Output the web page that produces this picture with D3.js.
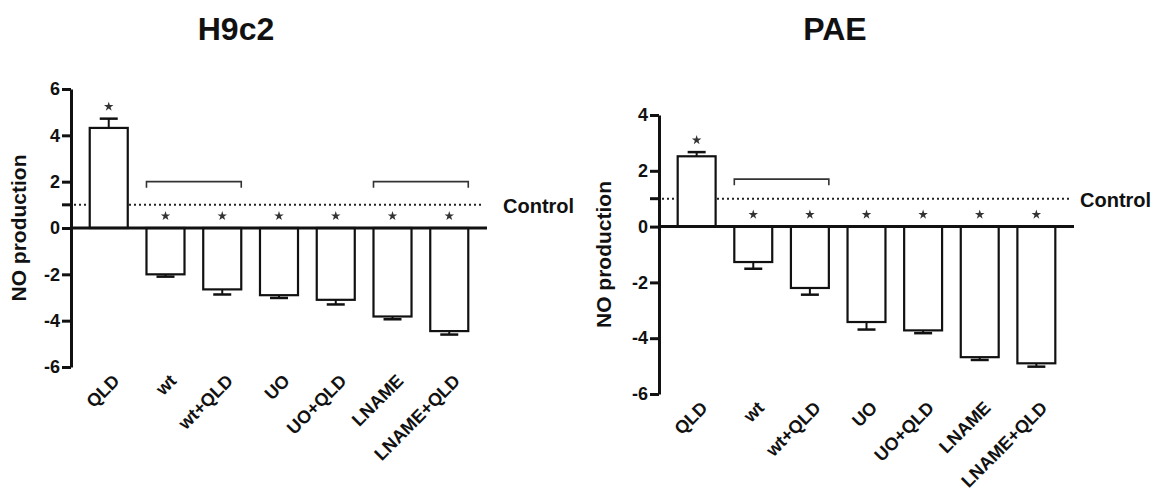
<!DOCTYPE html>
<html>
<head>
<meta charset="utf-8">
<script src="https://cdn.jsdelivr.net/npm/d3@7"></script>
<style>
  body { margin: 0; background: #fff; }
  text { font-family: "Liberation Sans", Arial, sans-serif; font-weight: bold; fill: #111; }
</style>
</head>
<body>
<svg id="chart"></svg>
<script>
const categories = ["QLD", "wt", "wt+QLD", "UO", "UO+QLD", "LNAME", "LNAME+QLD"]

// H9c2 panel
const h9Means = [4.32, -2.0, -2.65, -2.9, -3.1, -3.82, -4.45]
const h9Errors = [0.4, 0.1, 0.22, 0.12, 0.2, 0.12, 0.15]
const h9Ticks = [-6, -4, -2, 0, 2, 4, 6]
const h9Brackets = [[1, 2], [5, 6]]
const h9BracketLevel = 2.0

// PAE panel
const paeMeans = [2.52, -1.27, -2.2, -3.42, -3.72, -4.68, -4.9]
const paeErrors = [0.15, 0.24, 0.24, 0.27, 0.1, 0.1, 0.12]
const paeTicks = [-6, -4, -2, 0, 2, 4]
const paeBrackets = [[1, 2]]
const paeBracketLevel = 1.7

const controlLevel = 1
const starred = [true, true, true, true, true, true, true]

const width = 1157,
    height = 499

const svg = d3.select("#chart")
    .attr("width", width)
    .attr("height", height)

const drawPanel = (opt) => {
    const g = svg.append("g")

    const x = d3.scaleBand()
        .domain(categories)
        .range([opt.x0, opt.x1])
        .paddingInner(0.33)
        .paddingOuter(0.33)

    const y = d3.scaleLinear()
        .domain(d3.extent(opt.ticks))
        .range([opt.yBottom, opt.yTop])

    // title
    g.append("text")
        .attr("x", opt.titleX)
        .attr("y", 40)
        .attr("text-anchor", "middle")
        .style("font-size", "32px")
        .text(opt.title)

    // y axis label
    g.append("text")
        .attr("transform", "translate(" + opt.labelX + "," + (opt.yTop + opt.yBottom) / 2 + ") rotate(-90)")
        .attr("text-anchor", "middle")
        .style("font-size", "21px")
        .text("NO production")

    // control line
    g.append("line")
        .attr("x1", opt.x0 + 3)
        .attr("x2", opt.x1 - 3)
        .attr("y1", y(controlLevel))
        .attr("y2", y(controlLevel))
        .attr("stroke", "#222")
        .attr("stroke-width", 2)
        .attr("stroke-dasharray", "2,3")

    g.append("text")
        .attr("x", opt.x1 + opt.controlGap)
        .attr("y", y(controlLevel) + 8)
        .style("font-size", "20px")
        .text("Control")

    const data = categories.map((c, i) => ({ cat: c, v: opt.means[i], e: opt.errors[i], star: starred[i] }))

    // error bars (away from zero)
    const eb = g.selectAll(".eb")
        .data(data)
        .join("g")
        .attr("class", "eb")
    eb.append("line")
        .attr("x1", d => x(d.cat) + x.bandwidth() / 2)
        .attr("x2", d => x(d.cat) + x.bandwidth() / 2)
        .attr("y1", d => y(d.v))
        .attr("y2", d => y(d.v + Math.sign(d.v) * d.e))
        .attr("stroke", "#111")
        .attr("stroke-width", 2)
    eb.append("line")
        .attr("x1", d => x(d.cat) + x.bandwidth() / 2 - 9)
        .attr("x2", d => x(d.cat) + x.bandwidth() / 2 + 9)
        .attr("y1", d => y(d.v + Math.sign(d.v) * d.e))
        .attr("y2", d => y(d.v + Math.sign(d.v) * d.e))
        .attr("stroke", "#111")
        .attr("stroke-width", 2.5)

    // bars
    g.selectAll(".bar")
        .data(data)
        .join("rect")
        .attr("class", "bar")
        .attr("x", d => x(d.cat))
        .attr("width", x.bandwidth())
        .attr("y", d => Math.min(y(d.v), y(0)))
        .attr("height", d => Math.abs(y(d.v) - y(0)))
        .attr("fill", "#fff")
        .attr("stroke", "#111")
        .attr("stroke-width", 2.2)

    // stars
    const star = d3.symbol(d3.symbolStar, 28)
    g.selectAll(".star")
        .data(data.filter(d => d.star))
        .join("path")
        .attr("class", "star")
        .attr("d", star)
        .attr("fill", "#333")
        .attr("transform", d => {
            const base = d.v > 0 ? y(d.v + d.e) : y(0)
            return "translate(" + (x(d.cat) + x.bandwidth() / 2) + "," + (base - 12) + ")"
        })

    // brackets
    g.selectAll(".bracket")
        .data(opt.brackets)
        .join("path")
        .attr("class", "bracket")
        .attr("fill", "none")
        .attr("stroke", "#333")
        .attr("stroke-width", 1.6)
        .attr("d", b => {
            const xa = x(categories[b[0]]),
                xb = x(categories[b[1]]) + x.bandwidth(),
                yy = y(opt.bracketLevel)
            return "M" + xa + "," + (yy + 6) + "V" + yy + "H" + xb + "V" + (yy + 6)
        })

    // zero line
    g.append("line")
        .attr("x1", opt.x0)
        .attr("x2", opt.x1)
        .attr("y1", y(0))
        .attr("y2", y(0))
        .attr("stroke", "#111")
        .attr("stroke-width", 3)

    // y axis
    const axis = g.append("g")
        .attr("transform", "translate(" + opt.x0 + ",0)")
        .call(d3.axisLeft(y).tickValues(opt.ticks).tickSize(9).tickSizeOuter(0).tickPadding(2).tickFormat(d => String(d)))
    axis.attr("font-family", null).attr("font-size", null)
    axis.select(".domain").attr("stroke", "#111").attr("stroke-width", 3)
    axis.selectAll(".tick line").attr("stroke", "#111").attr("stroke-width", 3)
    axis.selectAll(".tick text").style("font-size", "18px").attr("fill", "#111")
    axis.append("line")
        .attr("x1", -9).attr("x2", 0)
        .attr("y1", y(controlLevel)).attr("y2", y(controlLevel))
        .attr("stroke", "#111").attr("stroke-width", 3)

    // x labels
    g.selectAll(".xl")
        .data(categories)
        .join("text")
        .attr("class", "xl")
        .attr("text-anchor", "end")
        .style("font-size", "18px")
        .attr("transform", c => "translate(" + (x(c) + x.bandwidth() / 2 + 12) + "," + (opt.yBottom + 15) + ") rotate(-45)")
        .text(c => c)
}

drawPanel({
    title: "H9c2", titleX: 236, controlGap: 16,
    x0: 71, x1: 487, yTop: 89, yBottom: 367, labelX: 26,
    means: h9Means, errors: h9Errors, ticks: h9Ticks,
    brackets: h9Brackets, bracketLevel: h9BracketLevel
})

drawPanel({
    title: "PAE", titleX: 835, controlGap: 6,
    x0: 659, x1: 1074, yTop: 115, yBottom: 394, labelX: 611,
    means: paeMeans, errors: paeErrors, ticks: paeTicks,
    brackets: paeBrackets, bracketLevel: paeBracketLevel
})
</script>
</body>
</html>
